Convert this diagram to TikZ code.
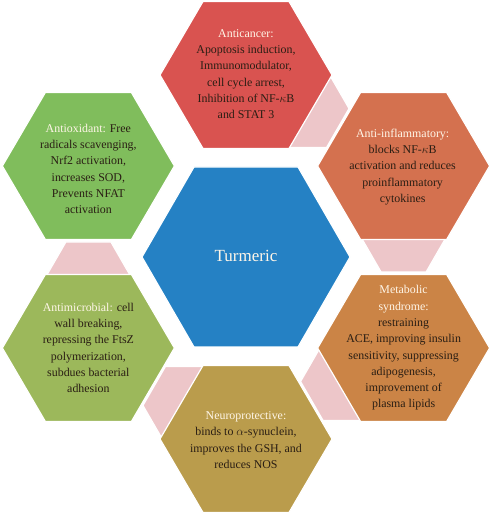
\documentclass[tikz,border=0pt]{standalone}
\usepackage{fontspec}
\setmainfont{Liberation Serif}
\usetikzlibrary{calc}
\definecolor{cancer}{HTML}{D95350}
\definecolor{inflam}{HTML}{D4714F}
\definecolor{metab}{HTML}{CB8446}
\definecolor{neuro}{HTML}{BA9C4C}
\definecolor{microb}{HTML}{9CB85B}
\definecolor{oxid}{HTML}{80BD5C}
\definecolor{turm}{HTML}{2581C4}
\definecolor{pinkc}{HTML}{EDC6C9}
\definecolor{headtxt}{HTML}{FFF6E8}
\definecolor{bodytxt}{HTML}{2A1E14}
\newcommand{\hexat}[4]{% style, center, R, h
  \path[#1] (#2) ++(#3,0) -- ++(-#3/2,#4) -- ++(-#3,0) -- ++(-#3/2,-#4)
    -- ++(#3/2,-#4) -- ++(#3,0) -- cycle;}
\tikzset{
  hexbase/.style={draw=white, line width=1.2pt},
  txt/.style={align=center, font=\fontsize{11.9}{16.3}\selectfont, text=bodytxt, inner sep=0pt},
  hd/.style={text=headtxt}
}
\begin{document}
\begin{tikzpicture}[x=1pt,y=1pt]
\useasboundingbox (0,0) rectangle (491,515);
\coordinate (C) at (246,258);
% outer centres
\coordinate (Top) at ($(C)+(90:182)$);
\coordinate (UL)  at ($(C)+(150:182)$);
\coordinate (LL)  at ($(C)+(210:182)$);
\coordinate (Bot) at ($(C)+(270:182)$);
\coordinate (LR)  at ($(C)+(330:182)$);
\coordinate (UR)  at ($(C)+(30:182)$);
% pink connector hexagons
\foreach \t in {0,60,180,240,300}{
  \coordinate (P\t) at ($(C)+(\t:157.6)+(\t+90:24)$);
  \hexat{hexbase,fill=pinkc}{P\t}{45}{39}
}
% outer hexagons
\hexat{hexbase,fill=cancer}{Top}{86}{73.5}
\hexat{hexbase,fill=oxid}{UL}{86}{73.5}
\hexat{hexbase,fill=microb}{LL}{86}{73.5}
\hexat{hexbase,fill=neuro}{Bot}{86}{73.5}
\hexat{hexbase,fill=metab}{LR}{86}{73.5}
\hexat{hexbase,fill=inflam}{UR}{86}{73.5}
% centre
\hexat{hexbase,fill=turm}{C}{104}{90}
\node[txt, text=headtxt, font=\fontsize{17}{20}\selectfont] (turmeric) at (246,259) {Turmeric};
\node[txt] (anticancer) at ($(Top)+(0,1)$) {\textcolor{headtxt}{Anticancer:}\\Apoptosis induction,\\Immunomodulator,\\cell cycle arrest,\\Inhibition of NF-$\kappa$B\\and STAT 3};
\node[txt] (antioxidant) at ($(UL)+(0,-3)$) {\textcolor{headtxt}{Antioxidant:} Free\\radicals scavenging,\\Nrf2 activation,\\increases SOD,\\Prevents NFAT\\activation};
\node[txt] (antiinflam) at ($(UR)+(-1,-1)$) {\textcolor{headtxt}{Anti-inflammatory:}\\blocks NF-$\kappa$B\\activation and reduces\\proinflammatory\\cytokines};
\node[txt] (antimicrob) at (LL) {\textcolor{headtxt}{Antimicrobial:} cell\\wall breaking,\\repressing the FtsZ\\polymerization,\\subdues bacterial\\adhesion};
\node[txt] (metabolic) at (LR) {\textcolor{headtxt}{Metabolic}\\\textcolor{headtxt}{syndrome:}\\restraining\\ACE, improving insulin\\sensitivity, suppressing\\adipogenesis,\\improvement of\\plasma lipids};
\node[txt] (neuroprot) at ($(Bot)+(0,-1)$) {\textcolor{headtxt}{Neuroprotective:}\\binds to $\alpha$-synuclein,\\improves the GSH, and\\reduces NOS};
\end{tikzpicture}
\end{document}
